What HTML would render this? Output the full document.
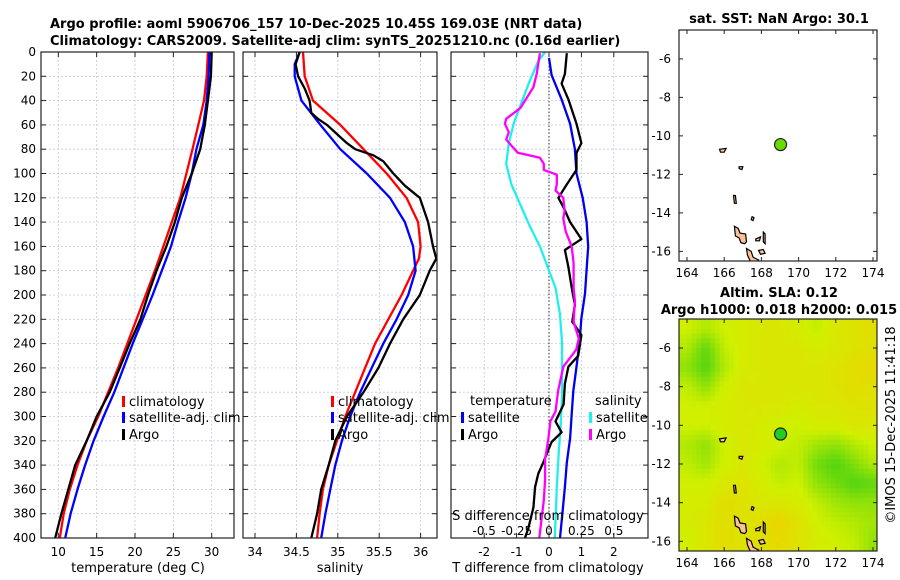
<!DOCTYPE html>
<html><head><meta charset="utf-8"><style>
html,body{margin:0;padding:0;background:#fff;}
svg{display:block;font-family:"DejaVu Sans","Liberation Sans",sans-serif;}
</style></head><body>
<svg id="fig" width="900" height="580" viewBox="0 0 900 580" xmlns="http://www.w3.org/2000/svg">
<text x="50" y="28" font-size="13" font-weight="bold">Argo profile: aoml 5906706_157 10-Dec-2025 10.45S 169.03E (NRT data)</text>
<text x="50" y="45" font-size="13" font-weight="bold">Climatology: CARS2009. Satellite-adj clim: synTS_20251210.nc (0.16d earlier)</text>
<text x="779" y="23" font-size="13" font-weight="bold" text-anchor="middle">sat. SST: NaN Argo: 30.1</text>
<text x="779" y="297" font-size="13" font-weight="bold" text-anchor="middle">Altim. SLA: 0.12</text>
<text x="779" y="314" font-size="13" font-weight="bold" text-anchor="middle">Argo h1000: 0.018 h2000: 0.015</text>
<text transform="translate(895,425) rotate(-90)" font-size="13" text-anchor="middle">©IMOS 15-Dec-2025 11:41:18</text>
<g id="layer"></g>
</svg>
<script>
// ---- data ----
const depthT = [0,20,40,60,80,100,120,140,160,180,200,220,240,260,280,300,320,340,360,380,400];
const tClim = [29.5,29.35,29.0,28.25,27.5,26.7,25.9,24.8,23.7,22.6,21.4,20.2,19.0,17.8,16.5,15.2,13.7,12.5,11.5,10.7,10.2];
const tSat = [29.7,29.6,29.35,28.9,28.0,27.4,26.6,25.6,24.7,23.5,22.3,21.0,19.7,18.5,17.3,15.9,14.6,13.5,12.5,11.6,10.9];
const tArgo = [30.0,29.9,29.5,29.1,28.5,27.4,26.1,25.2,24.1,22.8,21.7,20.7,19.3,18.0,16.7,15.0,13.7,12.2,11.3,10.4,9.6];
const sDepthC = [0,20,40,60,80,100,120,140,160,170,180,200,220,240,260,280,300,320,340,360,380,400];
const sClim = [34.58,34.60,34.70,35.03,35.31,35.59,35.83,35.97,36.0,35.98,35.91,35.77,35.61,35.45,35.33,35.21,35.09,34.99,34.89,34.82,34.78,34.75];
const sDepthS = [0,10,20,40,60,80,100,120,140,160,180,200,220,240,260,280,300,320,340,360,380,400];
const sSat = [34.54,34.48,34.48,34.56,34.79,35.03,35.35,35.63,35.81,35.91,35.94,35.85,35.71,35.55,35.41,35.27,35.15,35.05,34.97,34.91,34.85,34.80];
const sDepthA = [0,10,20,30,40,50,55,60,70,75,80,85,90,100,110,120,140,160,170,180,200,220,240,260,280,300,320,340,360,380,400];
const sArgo = [34.54,34.49,34.52,34.60,34.66,34.68,34.76,34.87,35.03,35.11,35.21,35.43,35.55,35.67,35.81,35.99,36.09,36.15,36.19,36.11,35.99,35.79,35.63,35.49,35.31,35.11,34.97,34.89,34.80,34.75,34.68];
const dDepthTS = [5,19,39,59,80,100,120,140,160,179,199,219,239,259,279,298,318,338,358,378,400];
const dTSat = [0,0.08,0.39,0.65,0.80,0.85,1.04,1.16,1.21,1.16,1.11,1.0,0.94,0.85,0.75,0.70,0.65,0.55,0.49,0.42,0.34];
const dDepthTA = [1,18,26,39,59,75,83,97,109,120,128,140,154,163,177,194,208,222,233,250,259,273,290,304,313,321,338,347,358,375,392,400];
const dTArgo = [0.55,0.49,0.39,0.6,0.85,1.0,0.85,0.85,0.55,0.29,0.45,0.65,1.0,0.49,0.6,0.7,0.8,0.72,1.0,0.9,0.6,0.49,0.45,0.2,0.39,0.08,-0.18,-0.33,-0.43,-0.48,-0.64,-0.74];
const dDepthSS = [0,7,24,41,58,75,92,109,126,143,160,177,194,216,239,262,284,307,330,358,400];
const dSSat = [-0.03,-0.08,-0.15,-0.21,-0.27,-0.31,-0.33,-0.29,-0.22,-0.15,-0.07,-0.01,0.05,0.085,0.10,0.10,0.10,0.09,0.075,0.06,0.045];
const dDepthSA = [1,18,29,46,55,59,66,72,77,83,87,92,97,101,109,114,120,131,137,148,160,174,194,205,222,236,245,259,279,296,304,318,335,352,369,400];
const dSArgo = [-0.07,-0.095,-0.12,-0.22,-0.33,-0.34,-0.31,-0.33,-0.29,-0.24,-0.07,-0.04,-0.04,0.06,0.06,0.05,0.11,0.12,0.11,0.13,0.175,0.19,0.19,0.20,0.19,0.23,0.21,0.11,0.07,0.05,0.01,-0.005,-0.03,-0.03,-0.04,-0.075];
const slaLons = [164,165,166,167,168,169,170,171,172,173,174];
const slaLats = [-5,-6,-7,-8,-9,-10,-11,-12,-13,-14,-15,-16];
const slaGrid = [
 [0.5,0.4,0.5,0.55,0.6,0.6,0.55,0.45,0.6,0.65,0.7],
 [0.4,0.15,0.45,0.55,0.6,0.6,0.6,0.55,0.6,0.65,0.7],
 [0.3,0.1,0.4,0.55,0.6,0.6,0.6,0.6,0.65,0.7,0.75],
 [0.45,0.3,0.5,0.6,0.6,0.6,0.6,0.6,0.65,0.7,0.7],
 [0.5,0.5,0.55,0.6,0.6,0.6,0.55,0.6,0.6,0.65,0.65],
 [0.5,0.5,0.55,0.6,0.55,0.5,0.5,0.55,0.55,0.6,0.6],
 [0.4,0.3,0.5,0.6,0.55,0.5,0.45,0.35,0.3,0.4,0.5],
 [0.45,0.35,0.5,0.6,0.5,0.4,0.45,0.2,0.1,0.25,0.4],
 [0.5,0.5,0.6,0.65,0.55,0.45,0.5,0.3,0.2,0.1,0.15],
 [0.55,0.55,0.7,0.65,0.6,0.6,0.55,0.45,0.35,0.3,0.3],
 [0.55,0.6,0.7,0.65,0.7,0.8,0.65,0.5,0.45,0.4,0.35],
 [0.5,0.6,0.7,0.65,0.7,0.75,0.65,0.55,0.5,0.45,0.3]];
const argoPos = [169.03,-10.45];
const depthTicks = [0,20,40,60,80,100,120,140,160,180,200,220,240,260,280,300,320,340,360,380,400];
const tTicks = [10,15,20,25,30];
const sTicks = [34,34.5,35,35.5,36];
const dtTicks = [-2,-1,0,1,2];
const dsTicks = [-0.5,-0.25,0,0.25,0.5];
const dsTickLabels = ["-0.5","-0.25","0","0.25","0.5"];
const lonTicks = [164,166,168,170,172,174];
const latTicks = [-6,-8,-10,-12,-14,-16];

const NS='http://www.w3.org/2000/svg';
const L=document.getElementById('layer');
function mk(tag,attrs,parent){const e=document.createElementNS(NS,tag);for(const k in attrs)e.setAttribute(k,attrs[k]);(parent||L).appendChild(e);return e;}
function txt(x,y,s,size,anchor,parent){const t=mk('text',{x:x,y:y,'font-size':size||12,'text-anchor':anchor||'middle'},parent);t.textContent=s;return t;}

const TOP=52,BOT=538;
const yD=d=>TOP+(BOT-TOP)*d/400;
const xT=v=>58.3+(v-10)*7.67;
const xS=v=>255+(v-34)*82.8;
const xDT=v=>549+v*32.4;
const xDS=v=>549+v*129.6;

function panel(x0,x1,name){
  const g=mk('g',{});
  
  
  depthTicks.forEach(d=>{
    const l=mk('line',{x1:x0,x2:x1,y1:yD(d),y2:yD(d),stroke:'#c4c8e6','stroke-width':0.8,'stroke-dasharray':'2,2'},g);
    
    
    mk('line',{x1:x0,x2:x0+5,y1:yD(d),y2:yD(d),stroke:'#222'},g);
    mk('line',{x1:x1-5,x2:x1,y1:yD(d),y2:yD(d),stroke:'#222'},g);
  });
  return g;
}
function vgrid(g,x,top){
  const l=mk('line',{x1:x,x2:x,y1:TOP,y2:BOT,stroke:'#c4c8e6','stroke-width':0.8,'stroke-dasharray':'2,2'},g);
  
  
  mk('line',{x1:x,x2:x,y1:BOT-5,y2:BOT,stroke:'#222'},g);
  if(top) mk('line',{x1:x,x2:x,y1:TOP,y2:TOP+5,stroke:'#222'},g);
}
function frame(g,x0,x1){
  const r=mk('rect',{x:x0,y:TOP,width:x1-x0,height:BOT-TOP,fill:'none',stroke:'#222','stroke-width':1.2},g);
  
  
}
function line(g,xs,ds,fx,color,name){
  const pts=xs.map((v,i)=>fx(v).toFixed(1)+','+yD(ds[i]).toFixed(1)).join(' ');
  const p=mk('polyline',{points:pts,fill:'none',stroke:color,'stroke-width':2.3,'stroke-linejoin':'round'},g);
  
  
}
function legend(g,x,y,color,label,name){
  const e=mk('g',{},g);
  
  
  mk('rect',{x:x,y:y-10,width:3,height:11,fill:color},e);
  txt(x+7,y,label,13,'start',e);
}

// Panel 1: temperature
const p1=panel(41,234,'temperature-panel');
tTicks.forEach(v=>{vgrid(p1,xT(v),true);const t=txt(xT(v),556,String(v),12,'middle',p1);});
depthTicks.forEach(d=>{const t=txt(36,yD(d)+4,String(d),12,'end',p1);});
line(p1,tClim,depthT,xT,'#ff0000','temp-climatology-line');
line(p1,tSat,depthT,xT,'#0000ff','temp-satellite-line');
line(p1,tArgo,depthT,xT,'#000000','temp-argo-line');
frame(p1,41,234);
legend(p1,122,406,'#ff0000','climatology','legend-climatology');
legend(p1,122,422,'#0000ff','satellite-adj. clim','legend-satellite');
legend(p1,122,439,'#000000','Argo','legend-argo');
const xl1=txt(138,572,'temperature (deg C)',13,'middle',p1);

// Panel 2: salinity
const p2=panel(243,437,'salinity-panel');
sTicks.forEach(v=>{vgrid(p2,xS(v),true);const t=txt(xS(v),556,String(v),12,'middle',p2);});
line(p2,sClim,sDepthC,xS,'#ff0000','sal-climatology-line');
line(p2,sSat,sDepthS,xS,'#0000ff','sal-satellite-line');
line(p2,sArgo,sDepthA,xS,'#000000','sal-argo-line');
frame(p2,243,437);
legend(p2,331,406,'#ff0000','climatology','legend-climatology');
legend(p2,331,422,'#0000ff','satellite-adj. clim','legend-satellite');
legend(p2,331,439,'#000000','Argo','legend-argo');
const xl2=txt(340,572,'salinity',13,'middle',p2);

// Panel 3: differences
const p3=panel(451,648,'difference-panel');
dtTicks.forEach(v=>{vgrid(p3,xDT(v),true);const t=txt(xDT(v),556,String(v),12,'middle',p3);});
const zl=mk('line',{x1:xDT(0),x2:xDT(0),y1:TOP,y2:BOT,stroke:'#333','stroke-width':1,'stroke-dasharray':'1.5,2'},p3);

line(p3,dSSat,dDepthSS,xDS,'#22eeee','sal-diff-satellite-line');
line(p3,dTSat,dDepthTS,xDT,'#0000ee','temp-diff-satellite-line');
line(p3,dTArgo,dDepthTA,xDT,'#000000','temp-diff-argo-line');
line(p3,dSArgo,dDepthSA,xDS,'#ff00ff','sal-diff-argo-line');
frame(p3,451,648);
const lt=txt(470,405,'temperature',13,'start',p3);
legend(p3,461,422,'#0000ee','satellite','legend-temp-satellite');
legend(p3,461,439,'#000000','Argo','legend-temp-argo');
const ls=txt(595,405,'salinity',13,'start',p3);
legend(p3,589,422,'#22eeee','satellite','legend-sal-satellite');
legend(p3,589,439,'#ff00ff','Argo','legend-sal-argo');
const st=txt(548,520,'S difference from climatology',13,'middle',p3);
dsTicks.forEach((v,i)=>{const t=txt(xDS(v),535,dsTickLabels[i],12,'middle',p3);});
const xl3=txt(548,572,'T difference from climatology',13,'middle',p3);

// Maps
function mapAxes(top,bot,name){
  const g=mk('g',{});
  
  
  const x0=679,x1=877;
  const lonX=v=>687+(v-164)*18.6;
  const latY=v=>top+(-4.5-v)*((bot-top)/12.0);
  return {g,x0,x1,lonX,latY,top,bot};
}
function colormap(v){
  const stops=[[0,[50,205,20]],[0.5,[208,240,0]],[1,[252,195,0]]];
  let a=stops[0],b=stops[1];if(v>0.5){a=stops[1];b=stops[2];}
  const t=Math.max(0,Math.min(1,(v-a[0])/(b[0]-a[0])));
  const c=a[1].map((x,i)=>Math.round(x+(b[1][i]-x)*t));
  return 'rgb('+c.join(',')+')';
}
function sample(r,c){
  const R=slaGrid.length-1,C=slaGrid[0].length-1;
  r=Math.max(0,Math.min(R,r));c=Math.max(0,Math.min(C,c));
  const r0=Math.floor(r),c0=Math.floor(c),r1=Math.min(R,r0+1),c1=Math.min(C,c0+1);
  const fr=r-r0,fc=c-c0;
  const a=slaGrid[r0][c0]*(1-fc)+slaGrid[r0][c1]*fc;
  const b=slaGrid[r1][c0]*(1-fc)+slaGrid[r1][c1]*fc;
  return a*(1-fr)+b*fr;
}
const islands=[
 [[166.55,-14.7],[166.75,-14.8],[166.85,-15.05],[167.15,-15.1],[167.2,-15.5],[167.1,-15.6],[166.9,-15.55],[166.8,-15.3],[166.6,-15.2]],
 [[167.2,-15.85],[167.45,-16.0],[167.55,-16.3],[167.85,-16.45],[167.7,-16.6],[167.4,-16.5],[167.25,-16.2]],
 [[167.85,-15.95],[168.1,-15.9],[168.2,-16.1],[167.95,-16.15]],
 [[168.1,-15.0],[168.2,-15.1],[168.2,-15.6],[168.1,-15.5]],
 [[167.7,-15.35],[167.95,-15.25],[167.9,-15.45],[167.7,-15.45]],
 [[167.5,-14.2],[167.6,-14.25],[167.55,-14.4],[167.45,-14.35]],
 [[165.75,-10.7],[166.1,-10.65],[166.0,-10.85],[165.8,-10.85]],
 [[166.8,-11.6],[167.0,-11.6],[166.95,-11.75],[166.8,-11.7]],
 [[166.5,-13.1],[166.6,-13.1],[166.65,-13.5],[166.55,-13.5]]
];
function drawMap(m,heat,dotColor){
  const {g,x0,x1,lonX,latY,top,bot}=m;
  const clip='clip'+top;
  const cp=mk('clipPath',{id:clip},g);mk('rect',{x:x0,y:top,width:x1-x0,height:bot-top},cp);
  const inner=mk('g',{'clip-path':'url(#'+clip+')'},g);
  mk('rect',{x:x0,y:top,width:x1-x0,height:bot-top,fill:'#fff'},inner);
  if(heat){
    const sub=4,ch=(bot-top)/12/sub,cw=18.6/sub;
    for(let r=0;r<slaGrid.length*sub;r++){
      for(let c=0;c<slaGrid[0].length*sub;c++){
        const rr=(r+0.5)/sub-0.5, cc=(c+0.5)/sub-0.5;
        const v=sample(rr,cc);
        const lx=lonX(slaLons[0]-0.5)+c*cw, ly=latY(slaLats[0]+0.5)+r*ch;
        const cell=mk('rect',{x:lx.toFixed(1),y:ly.toFixed(1),width:(cw+0.6).toFixed(1),height:(ch+0.6).toFixed(1),fill:colormap(v)},inner);
        
        
      }
    }
  }
  islands.forEach(poly=>{
    const pts=poly.map(p=>lonX(p[0]).toFixed(1)+','+latY(p[1]).toFixed(1)).join(' ');
    const isl=mk('polygon',{points:pts,fill:'#f8c296',stroke:'#000','stroke-width':1.2},inner);
    
    
  });
  const dot=mk('circle',{cx:lonX(argoPos[0]),cy:latY(argoPos[1]),r:6,fill:dotColor,stroke:'#222','stroke-width':1.2},g);
  
  
  const fr=mk('rect',{x:x0,y:top,width:x1-x0,height:bot-top,fill:'none',stroke:'#222','stroke-width':1.2},g);
  
  lonTicks.forEach(v=>{
    mk('line',{x1:lonX(v),x2:lonX(v),y1:bot,y2:bot-4,stroke:'#222'},g);
    mk('line',{x1:lonX(v),x2:lonX(v),y1:top,y2:top+4,stroke:'#222'},g);
    const t=txt(lonX(v),bot+16,String(v),12,'middle',g);
  });
  latTicks.forEach(v=>{
    mk('line',{x1:x0,x2:x0+4,y1:latY(v),y2:latY(v),stroke:'#222'},g);
    mk('line',{x1:x1,x2:x1-4,y1:latY(v),y2:latY(v),stroke:'#222'},g);
    const t=txt(x0-8,latY(v)+4,String(v),12,'end',g);
  });
}
drawMap(mapAxes(30,261,'sst-map'),false,'#66dd00');
drawMap(mapAxes(319,551,'sla-map'),true,'#22cc22');
</script>
</body></html>
